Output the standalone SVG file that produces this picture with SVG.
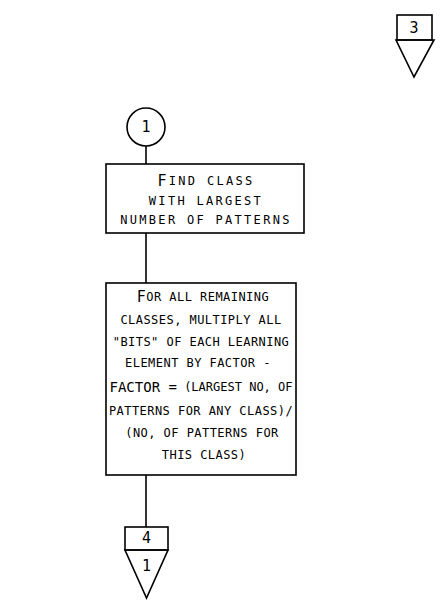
<svg xmlns="http://www.w3.org/2000/svg" width="447" height="600" viewBox="0 0 447 600">
<style>
.ln{fill:none;stroke:#000;stroke-width:1.6;stroke-linejoin:miter}
.t{font-family:"DejaVu Sans Mono","Liberation Mono",monospace;font-size:12px;fill:#000;text-anchor:middle;dominant-baseline:central}
.a{letter-spacing:2.3px}
.b{letter-spacing:0.45px}
.big{font-size:15px}
.num{font-family:"DejaVu Sans Mono","Liberation Mono",monospace;font-size:15px;fill:#000;text-anchor:middle;dominant-baseline:central}
</style>
<rect width="447" height="600" fill="#fff"/>
<g id="connectors">
<line class="ln" x1="146" y1="146" x2="146" y2="164"/>
<line class="ln" x1="146" y1="233" x2="146" y2="283"/>
<line class="ln" x1="146" y1="475" x2="146" y2="527"/>
</g>
<g id="offpage3">
<rect class="ln" x="397" y="15" width="35" height="25"/>
<polygon class="ln" points="396,40 434,40 414,77"/>
<text class="num" x="414" y="28">3</text>
</g>
<g id="start1">
<circle class="ln" cx="146" cy="127" r="19"/>
<text class="num" x="146" y="127">1</text>
</g>
<g id="findclass">
<rect class="ln" x="106" y="164" width="198" height="69"/>
<text class="t a" x="206" y="181"><tspan class="big">F</tspan>IND CLASS</text>
<text class="t a" x="206" y="201">WITH LARGEST</text>
<text class="t a" x="206" y="220">NUMBER OF PATTERNS</text>
</g>
<g id="multiply">
<rect class="ln" x="106" y="283" width="190" height="192"/>
<text class="t b" x="203" y="297"><tspan class="big">F</tspan>OR ALL REMAINING</text>
<text class="t b" x="201" y="320">CLASSES, MULTIPLY ALL</text>
<text class="t b" x="201" y="342">"BITS" OF EACH LEARNING</text>
<text class="t b" x="198" y="363">ELEMENT BY FACTOR -</text>
<text class="t" x="201" y="387"><tspan style="font-size:14px">FACTOR =</tspan> (LARGEST NO, OF</text>
<text class="t b" x="201" y="411">PATTERNS FOR ANY CLASS)/</text>
<text class="t b" x="202" y="433">(NO, OF PATTERNS FOR</text>
<text class="t b" x="204" y="455">THIS CLASS)</text>
</g>
<g id="offpage4">
<rect class="ln" x="125" y="527" width="43" height="23"/>
<polygon class="ln" points="125,550 168,550 146.5,598"/>
<text class="num" x="146.5" y="538">4</text>
<text class="num" x="146.5" y="566">1</text>
</g>
</svg>
